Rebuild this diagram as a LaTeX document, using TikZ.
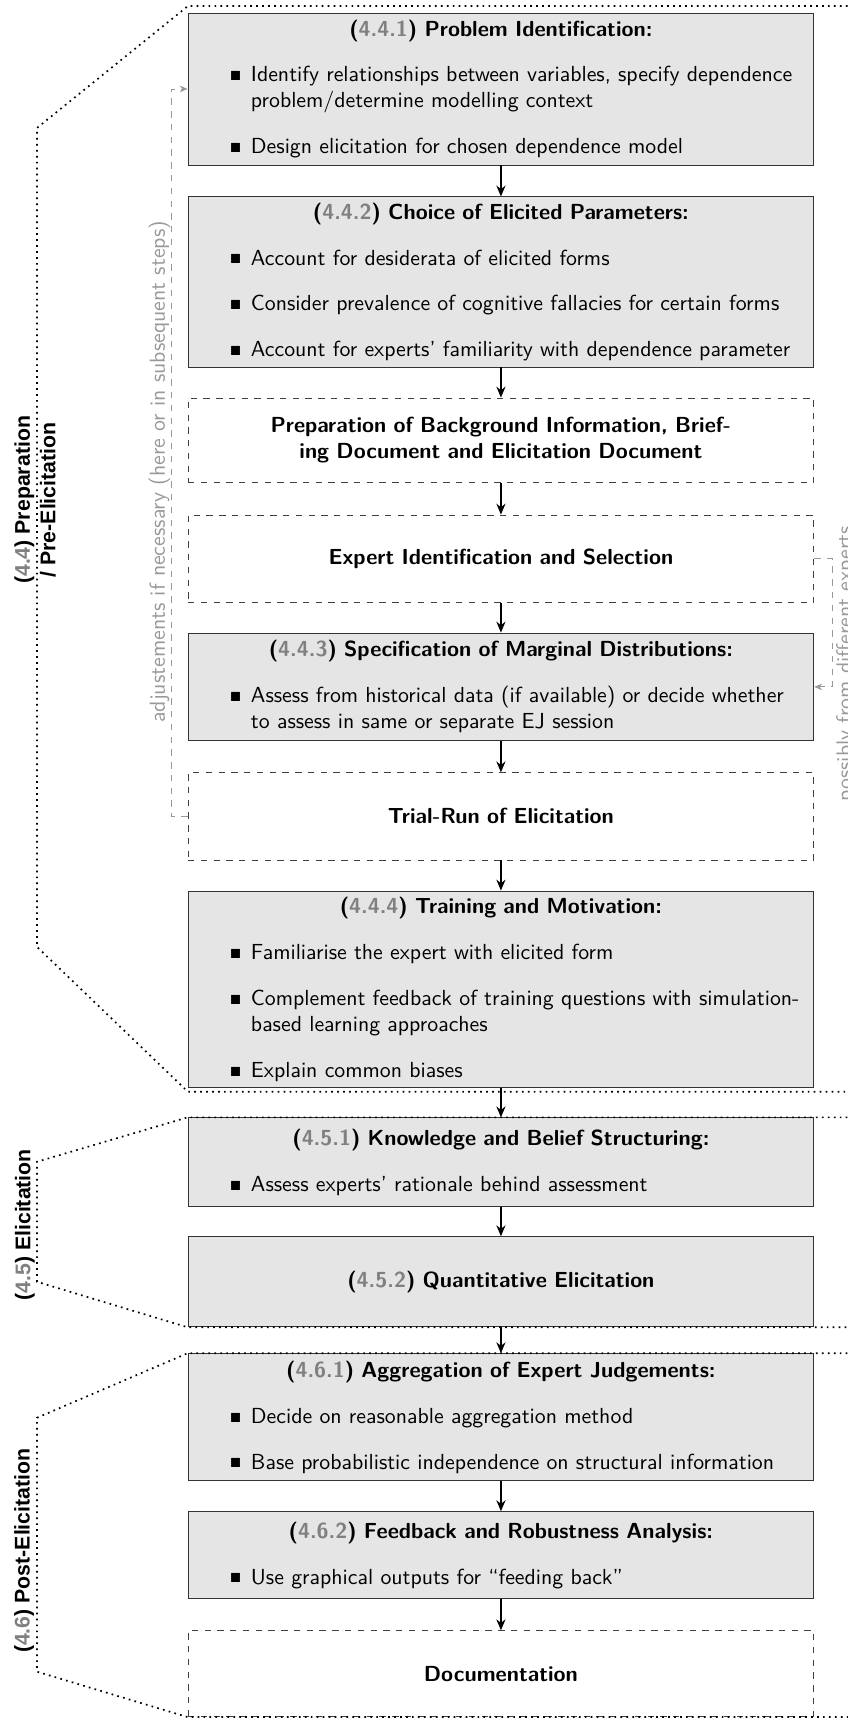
\documentclass[tikz,border=0pt]{standalone}
\usepackage{amssymb}
\usepackage{fontspec}
\newfontfamily\phasefont{Liberation Sans}
\usetikzlibrary{arrows.meta}

\colorlet{numgray}{black!50}
\colorlet{stepfill}{black!10}
\colorlet{feedgray}{black!40}

\newcommand{\stepfont}{\sffamily\fontsize{10.25}{12.3}\selectfont}
\newcommand{\steptitle}[2]{{\centering\bfseries(\textcolor{numgray}{#1}) #2\par}}
\newcommand{\stepitem}[1]{\par\vspace{9.2pt}{\leftskip=13.7pt\hangindent=9.9pt\hangafter=1\noindent\makebox[9.9pt][l]{\raisebox{0.5pt}{\tiny$\blacksquare$}}#1\par}}
\newcommand{\phasenum}[2]{(\textcolor{numgray}{#1}) #2}

\begin{document}
\begin{tikzpicture}[
    stepbox/.style={draw=black!80, fill=stepfill, font=\stepfont, text width=9.918cm, align=left, inner xsep=6pt, inner ysep=2.5pt},
    optbox/.style={draw=black!75, dashed, font=\stepfont\bfseries, text width=9.918cm, align=center, inner xsep=6pt, inner ysep=2.5pt},
    arrow/.style={-{Stealth[length=1.8mm, width=1.5mm]}, thick},
    feedback/.style={draw=feedgray, dashed, -{Stealth[length=1.3mm, width=1.1mm]}},
    feedtext/.style={font=\stepfont, text=feedgray, inner sep=0pt},
    phase/.style={thick, dotted},
    phaselabel/.style={font=\phasefont\bfseries, rotate=90, align=center, inner sep=1pt}
  ]
    \useasboundingbox (0,0) rectangle (14.01,-28.40);

    % preparation / pre-elicitation
    \node[stepbox, minimum height=2.51cm] (probid) at (8.276,-1.470) {\steptitle{4.4.1}{Problem Identification:}
      \stepitem{Identify relationships between variables, specify dependence\newline problem/determine modelling context}
      \stepitem{Design elicitation for chosen dependence model}};
    \node[stepbox, minimum height=2.81cm] (params) at (8.276,-4.658) {\steptitle{4.4.2}{Choice of Elicited Parameters:}
      \stepitem{Account for desiderata of elicited forms}
      \stepitem{Consider prevalence of cognitive fallacies for certain forms}
      \stepitem{Account for experts' familiarity with dependence parameter}};
    \node[optbox, minimum height=1.40cm] (backgr) at (8.276,-7.276) {Preparation of Background Information, Brief-\\ing Document and Elicitation Document};
    \node[optbox, minimum height=1.45cm] (expsel) at (8.276,-9.234) {Expert Identification and Selection};
    \node[stepbox, minimum height=1.78cm] (margin) at (8.276,-11.348) {\steptitle{4.4.3}{Specification of Marginal Distributions:}
      \stepitem{Assess from historical data (if available) or decide whether\newline to assess in same or separate EJ session}};
    \node[optbox, minimum height=1.44cm] (trial) at (8.276,-13.487) {Trial-Run of Elicitation};
    \node[stepbox, minimum height=3.25cm] (training) at (8.276,-16.345) {\steptitle{4.4.4}{Training and Motivation:}
      \stepitem{Familiarise the expert with elicited form}
      \stepitem{Complement feedback of training questions with simulation-\newline based learning approaches}
      \stepitem{Explain common biases}};

    % elicitation
    \node[stepbox, minimum height=1.47cm] (belief) at (8.276,-19.202) {\steptitle{4.5.1}{Knowledge and Belief Structuring:}
      \stepitem{Assess experts' rationale behind assessment}};
    \node[stepbox, minimum height=1.49cm] (quant) at (8.276,-21.176) {\steptitle{4.5.2}{Quantitative Elicitation}};

    % post-elicitation
    \node[stepbox, minimum height=2.10cm] (aggr) at (8.276,-23.414) {\steptitle{4.6.1}{Aggregation of Expert Judgements:}
      \stepitem{Decide on reasonable aggregation method}
      \stepitem{Base probabilistic independence on structural information}};
    \node[stepbox, minimum height=1.44cm] (robust) at (8.276,-25.694) {\steptitle{4.6.2}{Feedback and Robustness Analysis:}
      \stepitem{Use graphical outputs for ``feeding back''}};
    \node[optbox, minimum height=1.42cm] (docu) at (8.276,-27.651) {Documentation};

    \draw[arrow] (probid) -- (params);
    \draw[arrow] (params) -- (backgr);
    \draw[arrow] (backgr) -- (expsel);
    \draw[arrow] (expsel) -- (margin);
    \draw[arrow] (margin) -- (trial);
    \draw[arrow] (trial) -- (training);
    \draw[arrow] (training) -- (belief);
    \draw[arrow] (belief) -- (quant);
    \draw[arrow] (quant) -- (aggr);
    \draw[arrow] (aggr) -- (robust);
    \draw[arrow] (robust) -- (docu);

    % feedback loops
    \draw[feedback] (trial.west) -- ++(-0.264,0) |- (probid.west);
    \node[feedtext, rotate=90, anchor=base] (adjust) at (2.725,-7.796) {adjustements if necessary (here or in subsequent steps)};
    \draw[feedback] (expsel.east) -- ++(0.297,0) |- (margin.east);
    \node[feedtext, rotate=90, anchor=base] (experts) at (14.07,-10.968) {possibly from different experts};

    % phase brackets
    \draw[phase] (14.2,-0.099) -- (3.105,-0.099) -- (0.611,-2.114) -- (0.611,-15.643) -- (3.105,-18.038) -- (14.2,-18.038);
    \draw[phase] ([xshift=11cm]belief.north west) -- (belief.north west) -- (0.611,-19.194) -- (0.611,-21.176) -- (quant.south west) -- ([xshift=11cm]quant.south west);
    \draw[phase] ([xshift=11cm]aggr.north west) -- (aggr.north west) -- (0.611,-23.423) -- (0.611,-27.618) -- (docu.south west) -- ([xshift=11cm]docu.south west);

    \node[phaselabel] (prep) at (0.58,-8.259) {\phasenum{4.4}{Preparation}\\/ Pre-Elicitation};
    \node[phaselabel] (elic) at (0.41,-20.235) {\phasenum{4.5}{Elicitation}};
    \node[phaselabel] (post) at (0.40,-25.620) {\phasenum{4.6}{Post-Elicitation}};
  \end{tikzpicture}
\end{document}
